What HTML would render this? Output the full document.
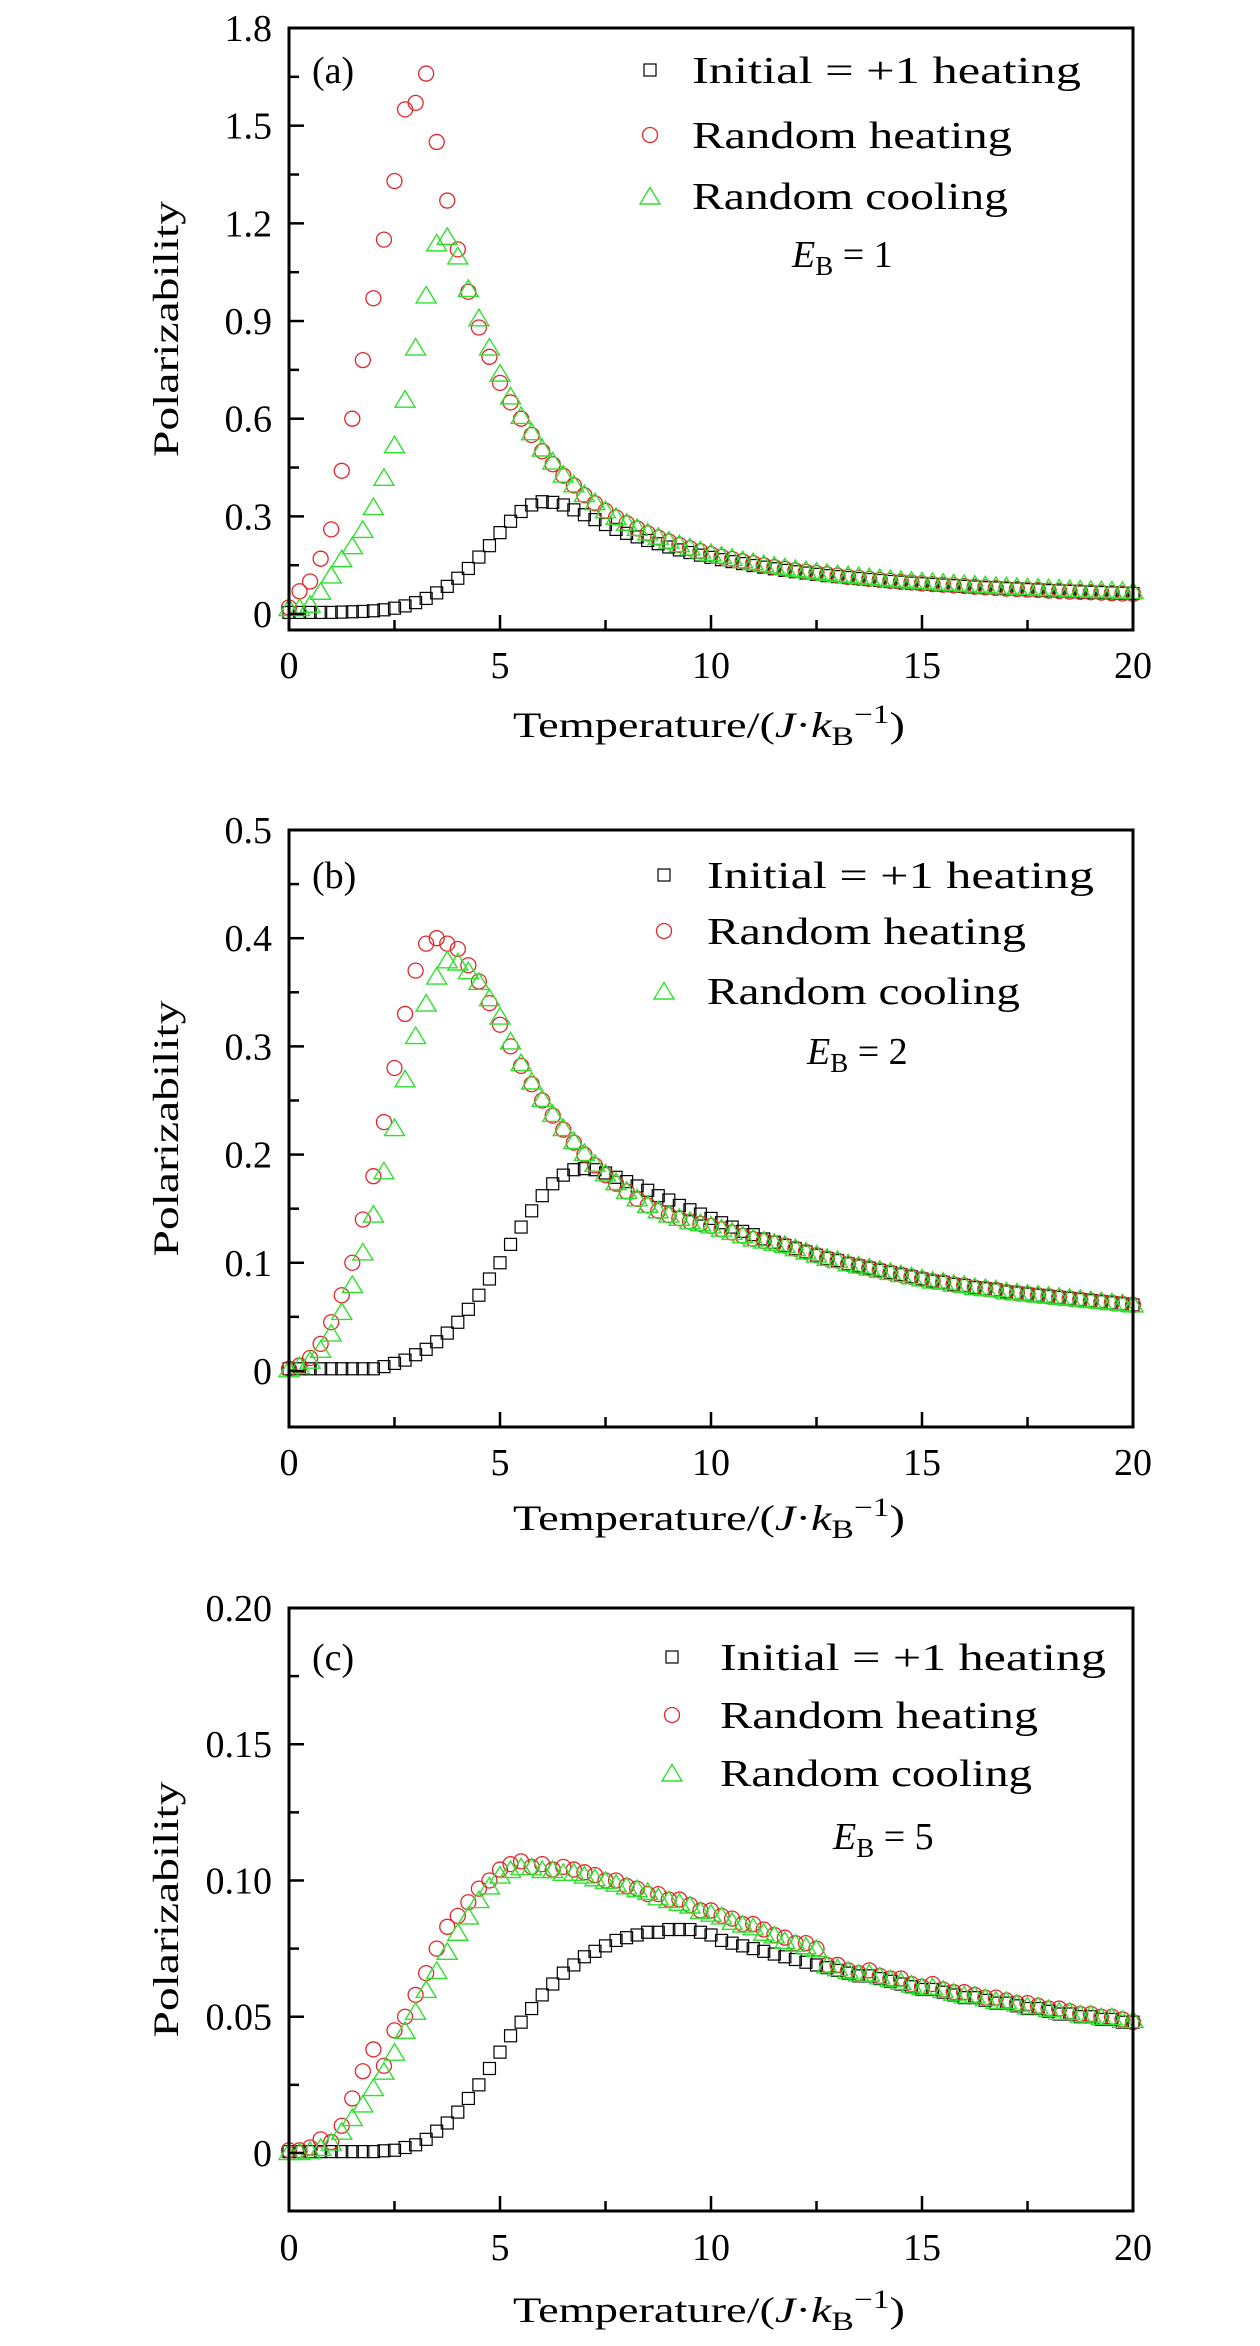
<!DOCTYPE html>
<html><head><meta charset="utf-8"><style>
html,body{margin:0;padding:0;background:#fff;}
svg{display:block;font-family:"Liberation Serif",serif;}
</style></head><body>
<svg id="chart" width="1260" height="2346" viewBox="0 0 1260 2346" xmlns="http://www.w3.org/2000/svg"></svg>
<script>
const temps = Array.from({length:81},(_,i)=>i*0.25);
const xTicks = [0,5,10,15,20];
const xTickLabels = ["0","5","10","15","20"];

const aBlack = [0.005,0.005,0.005,0.005,0.005,0.006,0.007,0.008,0.01,0.013,0.018,0.025,0.035,0.048,0.065,0.085,0.11,0.14,0.175,0.21,0.25,0.285,0.315,0.335,0.345,0.343,0.335,0.32,0.305,0.29,0.275,0.26,0.248,0.237,0.226,0.216,0.206,0.197,0.189,0.181,0.174,0.167,0.161,0.155,0.149,0.144,0.139,0.134,0.13,0.126,0.122,0.118,0.115,0.112,0.109,0.106,0.103,0.1,0.098,0.095,0.093,0.091,0.089,0.087,0.085,0.083,0.081,0.08,0.078,0.077,0.075,0.074,0.072,0.071,0.07,0.068,0.067,0.066,0.065,0.064,0.063];
const aRed = [0.02,0.07,0.1,0.17,0.26,0.44,0.6,0.78,0.97,1.15,1.33,1.55,1.57,1.66,1.45,1.27,1.12,0.99,0.88,0.79,0.71,0.65,0.6,0.55,0.5,0.46,0.425,0.395,0.365,0.34,0.317,0.297,0.279,0.263,0.248,0.235,0.223,0.212,0.202,0.193,0.184,0.176,0.169,0.162,0.156,0.15,0.144,0.139,0.134,0.13,0.126,0.122,0.118,0.114,0.111,0.108,0.105,0.102,0.099,0.097,0.094,0.092,0.09,0.088,0.086,0.084,0.082,0.08,0.078,0.077,0.075,0.074,0.072,0.071,0.069,0.068,0.067,0.066,0.064,0.063,0.062];
const aGreen = [0.02,0.02,0.03,0.07,0.12,0.17,0.21,0.26,0.33,0.42,0.52,0.66,0.82,0.98,1.14,1.16,1.1,1.0,0.91,0.82,0.74,0.67,0.61,0.56,0.51,0.47,0.43,0.4,0.37,0.345,0.32,0.3,0.282,0.266,0.252,0.239,0.227,0.216,0.206,0.197,0.189,0.181,0.174,0.167,0.161,0.155,0.15,0.145,0.14,0.136,0.132,0.128,0.124,0.121,0.118,0.115,0.112,0.109,0.107,0.104,0.102,0.1,0.098,0.096,0.094,0.092,0.09,0.088,0.087,0.085,0.084,0.082,0.081,0.08,0.078,0.077,0.076,0.075,0.074,0.073,0.072];

const bBlack = [0.002,0.002,0.002,0.002,0.002,0.002,0.002,0.002,0.002,0.004,0.007,0.01,0.015,0.02,0.027,0.035,0.045,0.057,0.07,0.085,0.1,0.117,0.133,0.148,0.162,0.173,0.181,0.186,0.187,0.186,0.183,0.179,0.175,0.171,0.167,0.162,0.158,0.153,0.149,0.145,0.141,0.137,0.133,0.129,0.126,0.122,0.119,0.116,0.113,0.11,0.107,0.104,0.102,0.099,0.097,0.095,0.093,0.091,0.089,0.087,0.085,0.083,0.082,0.08,0.079,0.077,0.076,0.075,0.073,0.072,0.071,0.07,0.069,0.068,0.067,0.066,0.065,0.064,0.063,0.062,0.061];
const bRed = [0.002,0.005,0.012,0.025,0.045,0.07,0.1,0.14,0.18,0.23,0.28,0.33,0.37,0.395,0.4,0.395,0.39,0.375,0.36,0.34,0.32,0.3,0.282,0.265,0.25,0.236,0.223,0.211,0.2,0.19,0.181,0.173,0.166,0.159,0.153,0.148,0.144,0.141,0.138,0.136,0.134,0.131,0.128,0.125,0.122,0.12,0.118,0.116,0.113,0.11,0.107,0.104,0.102,0.099,0.097,0.095,0.093,0.091,0.089,0.087,0.085,0.083,0.082,0.08,0.079,0.077,0.076,0.075,0.073,0.072,0.071,0.07,0.069,0.068,0.067,0.066,0.065,0.064,0.063,0.062,0.061];
const bGreen = [0.002,0.005,0.01,0.02,0.035,0.055,0.08,0.11,0.145,0.185,0.225,0.27,0.31,0.34,0.365,0.38,0.378,0.37,0.36,0.345,0.328,0.305,0.285,0.268,0.252,0.238,0.225,0.213,0.202,0.192,0.183,0.175,0.167,0.16,0.154,0.149,0.145,0.142,0.139,0.137,0.135,0.132,0.129,0.126,0.123,0.121,0.119,0.117,0.114,0.111,0.108,0.105,0.103,0.1,0.098,0.096,0.094,0.092,0.09,0.088,0.086,0.084,0.083,0.081,0.08,0.078,0.077,0.076,0.074,0.073,0.072,0.071,0.07,0.069,0.068,0.067,0.066,0.065,0.064,0.063,0.062];

const cBlack = [0.0005,0.0005,0.0005,0.0005,0.0005,0.0005,0.0005,0.0005,0.0005,0.0008,0.001,0.002,0.003,0.005,0.008,0.011,0.015,0.02,0.025,0.031,0.037,0.043,0.048,0.053,0.058,0.062,0.066,0.069,0.072,0.074,0.076,0.078,0.079,0.08,0.081,0.081,0.082,0.082,0.082,0.081,0.08,0.078,0.077,0.076,0.075,0.074,0.073,0.072,0.071,0.07,0.069,0.068,0.067,0.066,0.065,0.065,0.064,0.063,0.062,0.061,0.06,0.06,0.059,0.058,0.057,0.057,0.056,0.055,0.055,0.054,0.053,0.053,0.052,0.051,0.051,0.05,0.05,0.049,0.049,0.048,0.048];
const cRed = [0.001,0.001,0.002,0.005,0.004,0.01,0.02,0.03,0.038,0.032,0.045,0.05,0.058,0.066,0.075,0.083,0.087,0.092,0.097,0.1,0.104,0.106,0.107,0.105,0.106,0.104,0.105,0.104,0.103,0.102,0.1,0.1,0.098,0.097,0.095,0.095,0.093,0.093,0.091,0.089,0.089,0.087,0.086,0.084,0.084,0.082,0.08,0.079,0.077,0.077,0.075,0.069,0.069,0.067,0.066,0.067,0.065,0.064,0.064,0.062,0.061,0.062,0.06,0.059,0.059,0.058,0.057,0.057,0.056,0.055,0.055,0.054,0.053,0.053,0.052,0.051,0.051,0.05,0.05,0.049,0.048];
const cGreen = [0.0005,0.0005,0.001,0.002,0.004,0.008,0.013,0.018,0.024,0.03,0.037,0.045,0.052,0.06,0.067,0.074,0.081,0.087,0.093,0.098,0.102,0.104,0.105,0.105,0.104,0.104,0.103,0.103,0.102,0.101,0.1,0.099,0.098,0.097,0.096,0.094,0.093,0.092,0.091,0.089,0.088,0.087,0.085,0.084,0.083,0.081,0.08,0.078,0.077,0.076,0.075,0.069,0.068,0.067,0.066,0.066,0.065,0.064,0.063,0.062,0.061,0.061,0.06,0.059,0.058,0.058,0.057,0.056,0.056,0.055,0.054,0.054,0.053,0.052,0.052,0.051,0.051,0.05,0.05,0.049,0.049];

const aYTicks = [0,0.3,0.6,0.9,1.2,1.5,1.8];
const aYLabels = ["0","0.3","0.6","0.9","1.2","1.5","1.8"];
const bYTicks = [0,0.1,0.2,0.3,0.4,0.5];
const bYLabels = ["0","0.1","0.2","0.3","0.4","0.5"];
const cYTicks = [0,0.05,0.10,0.15,0.20];
const cYLabels = ["0","0.05","0.10","0.15","0.20"];
const legendLabels = ["Initial = +1 heating","Random heating","Random cooling"];

const NS="http://www.w3.org/2000/svg";
const svg=document.getElementById('chart');
function mk(tag,attrs,parent){const e=document.createElementNS(NS,tag);for(const k in attrs)e.setAttribute(k,attrs[k]);(parent||svg).appendChild(e);return e;}

const RED="#e3262b", GREEN="#2fe02f";
function marker(g,type,x,y){
  let e;
  if(type==='sq'){e=mk('rect',{x:x-6,y:y-6,width:12,height:12,fill:'none',stroke:'#000','stroke-width':1.2},g);}
  else if(type==='ci'){e=mk('circle',{cx:x,cy:y,r:7.5,fill:'none',stroke:RED,'stroke-width':1.3},g);}
  else {e=mk('path',{d:`M${x},${y-8.5}L${x+10},${y+8}L${x-10},${y+8}Z`,fill:'none',stroke:GREEN,'stroke-width':1.4},g);}
  return e;
}

function panel(cfg){
  const L=289,R=1133,T=cfg.top,B=cfg.bottom;
  const g=mk('g',{});
  
  
  const xs=v=>L+(v-0)/(20-0)*(R-L);
  const ys=v=>B-(v-cfg.ymin)/(cfg.ymax-cfg.ymin)*(B-T);
  const series=[[cfg.black,'sq','initial-heating'],[cfg.red,'ci','random-heating'],[cfg.green,'tr','random-cooling']];
  series.forEach(([arr,type,nm])=>{
    const sg=mk('g',{},g);
    
    
    arr.forEach((v,i)=>{
      if(i>=temps.length)return;
      const m=marker(sg,type,xs(temps[i]),ys(v));
      
      
    });
  });
  const fr=mk('rect',{x:L,y:T,width:R-L,height:B-T,fill:'none',stroke:'#000','stroke-width':3},g);
  
  
  xTicks.forEach((t,i)=>{
    mk('line',{x1:xs(t),x2:xs(t),y1:B,y2:B-15,stroke:'#000','stroke-width':2.5},g);
    if(i<xTicks.length-1){const m=t+2.5;mk('line',{x1:xs(m),x2:xs(m),y1:B,y2:B-10,stroke:'#000','stroke-width':2.5},g);}
    const tx=mk('text',{x:xs(t),y:cfg.xlabY+13,'text-anchor':'middle','font-size':38},g);
    tx.textContent=xTickLabels[i];
    
    
  });
  cfg.yticks.forEach((t,i)=>{
    mk('line',{x1:L,x2:L+15,y1:ys(t),y2:ys(t),stroke:'#000','stroke-width':2.5},g);
    if(i<cfg.yticks.length-1){const m=(t+cfg.yticks[i+1])/2;mk('line',{x1:L,x2:L+10,y1:ys(m),y2:ys(m),stroke:'#000','stroke-width':2.5},g);}
    const tx=mk('text',{x:272,y:ys(t)+13,'text-anchor':'end','font-size':38},g);
    tx.textContent=cfg.ylabels[i];
    
    
  });
  const xt=mk('text',{x:513,y:cfg.xtitleY+12,'font-size':36,textLength:392,lengthAdjust:'spacingAndGlyphs'},g);
  xt.innerHTML='Temperature/(<tspan font-style="italic">J</tspan>·<tspan font-style="italic">k</tspan><tspan font-size="26" dy="8">B</tspan><tspan font-size="26" dy="-22">−1</tspan><tspan dy="14">)</tspan>';
  
  
  const cy=(T+B)/2;
  const yt=mk('text',{x:166,y:cy,'font-size':36,'text-anchor':'middle',transform:`rotate(-90 166 ${cy}) translate(0 12)`,textLength:256,lengthAdjust:'spacingAndGlyphs'},g);
  yt.textContent='Polarizability';
  
  
  const pl=mk('text',{x:312,y:cfg.row[0]+13,'font-size':38},g);
  pl.textContent='('+cfg.id+')';
  
  
  const types=['sq','ci','tr'];
  legendLabels.forEach((lab,i)=>{
    const lg=mk('g',{},g);
    
    
    marker(lg,types[i],cfg.mx,cfg.row[i]);
    const t=mk('text',{x:cfg.tx,y:cfg.row[i]+13,'font-size':38,textLength:cfg.tw[i],lengthAdjust:'spacingAndGlyphs'},lg);
    t.textContent=lab;
  });
  const eb=mk('text',{x:cfg.ebx,y:cfg.eby+13,'font-size':38},g);
  eb.innerHTML='<tspan font-style="italic">E</tspan><tspan font-size="27" dy="8">B</tspan><tspan dy="-8"> = '+cfg.eb+'</tspan>';
  
  
}

panel({id:'a',top:28,bottom:630,ymin:-0.049,ymax:1.8,black:aBlack,red:aRed,green:aGreen,yticks:aYTicks,ylabels:aYLabels,
  xlabY:665,xtitleY:725,row:[70,135,196],mx:650,tx:692,tw:[389,320,316],ebx:792,eby:254,eb:1});
panel({id:'b',top:830,bottom:1427,ymin:-0.0518,ymax:0.5,black:bBlack,red:bRed,green:bGreen,yticks:bYTicks,ylabels:bYLabels,
  xlabY:1462,xtitleY:1518,row:[875,931,991],mx:664,tx:707,tw:[387,319,313],ebx:807,eby:1051,eb:2});
panel({id:'c',top:1608,bottom:2211,ymin:-0.0213,ymax:0.2,black:cBlack,red:cRed,green:cGreen,yticks:cYTicks,ylabels:cYLabels,
  xlabY:2247,xtitleY:2310,row:[1657,1715,1773],mx:672,tx:720,tw:[386,318,312],ebx:833,eby:1836,eb:5});
</script>
</body></html>
